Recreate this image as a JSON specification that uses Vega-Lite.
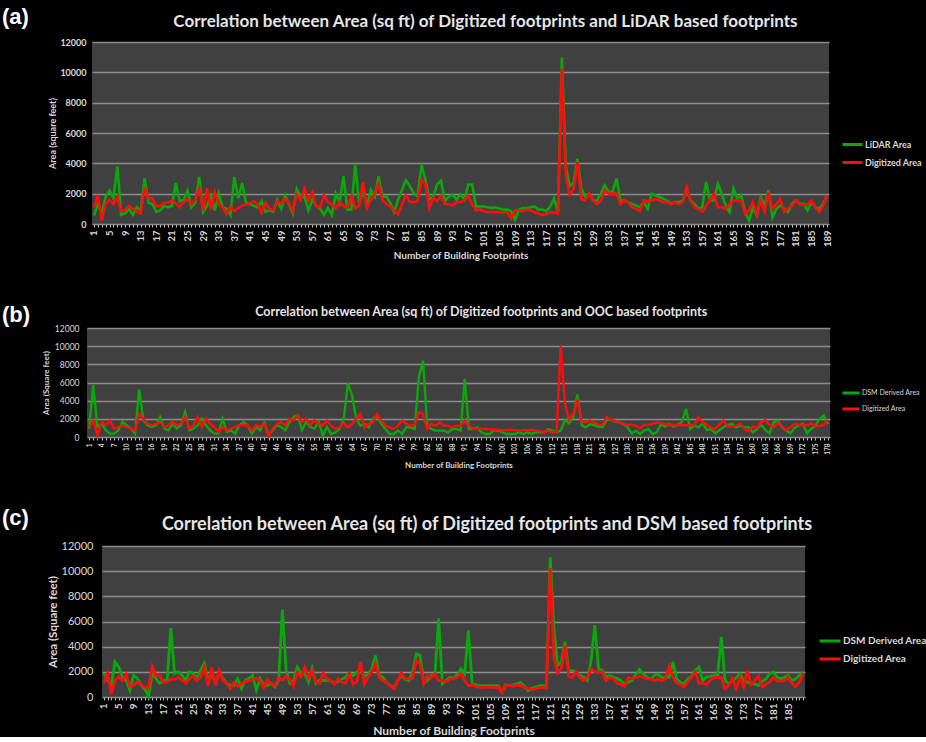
{
  "$schema": "https://vega.github.io/schema/vega-lite/v6.json",
  "background": "#000000",
  "padding": {"left": 2, "top": 5, "right": 0, "bottom": 0},
  "config": {"font": "Lato", "view": {"stroke": null}},
  "resolve": {"scale": {"color": "independent"}, "legend": {"color": "independent"}},
  "datasets": {
    "ac": [
      {"n":1,"lidar":550,"dsm":1870,"dig":1100},{"n":2,"lidar":1300,"dsm":1330,"dig":1900},{"n":3,"lidar":700,"dsm":930,"dig":250},{"n":4,"lidar":1800,"dsm":2800,"dig":1300},{"n":5,"lidar":2200,"dsm":2400,"dig":1600},
      {"n":6,"lidar":1700,"dsm":1600,"dig":1300},{"n":7,"lidar":3800,"dsm":1330,"dig":1800},{"n":8,"lidar":600,"dsm":530,"dig":850},{"n":9,"lidar":700,"dsm":1730,"dig":900},{"n":10,"lidar":1000,"dsm":1470,"dig":1200},
      {"n":11,"lidar":600,"dsm":930,"dig":1000},{"n":12,"lidar":1100,"dsm":670,"dig":800},{"n":13,"lidar":900,"dsm":50,"dig":700},{"n":14,"lidar":3000,"dsm":1870,"dig":2400},{"n":15,"lidar":1400,"dsm":1470,"dig":1700},
      {"n":16,"lidar":1300,"dsm":1070,"dig":1700},{"n":17,"lidar":800,"dsm":1330,"dig":1150},{"n":18,"lidar":900,"dsm":1330,"dig":1200},{"n":19,"lidar":1200,"dsm":5470,"dig":1400},{"n":20,"lidar":1100,"dsm":1870,"dig":1400},
      {"n":21,"lidar":1200,"dsm":2000,"dig":1550},{"n":22,"lidar":2700,"dsm":1730,"dig":1350},{"n":23,"lidar":1500,"dsm":1330,"dig":1100},{"n":24,"lidar":1600,"dsm":2000,"dig":1450},{"n":25,"lidar":2200,"dsm":1870,"dig":1650},
      {"n":26,"lidar":1100,"dsm":1470,"dig":1300},{"n":27,"lidar":1400,"dsm":2140,"dig":1600},{"n":28,"lidar":3100,"dsm":2670,"dig":2350},{"n":29,"lidar":800,"dsm":1330,"dig":900},{"n":30,"lidar":1200,"dsm":1730,"dig":2350},
      {"n":31,"lidar":1900,"dsm":1200,"dig":950},{"n":32,"lidar":900,"dsm":1870,"dig":2100},{"n":33,"lidar":2000,"dsm":1470,"dig":1300},{"n":34,"lidar":1100,"dsm":1070,"dig":1100},{"n":35,"lidar":1000,"dsm":930,"dig":650},
      {"n":36,"lidar":600,"dsm":930,"dig":1150},{"n":37,"lidar":3100,"dsm":1470,"dig":850},{"n":38,"lidar":1700,"dsm":670,"dig":1050},{"n":39,"lidar":2700,"dsm":1330,"dig":1200},{"n":40,"lidar":1400,"dsm":1470,"dig":1300},
      {"n":41,"lidar":1300,"dsm":1730,"dig":1350},{"n":42,"lidar":1200,"dsm":530,"dig":1500},{"n":43,"lidar":1100,"dsm":1470,"dig":1300},{"n":44,"lidar":1500,"dsm":930,"dig":750},{"n":45,"lidar":800,"dsm":930,"dig":1400},
      {"n":46,"lidar":900,"dsm":1070,"dig":1000},{"n":47,"lidar":800,"dsm":800,"dig":900},{"n":48,"lidar":1600,"dsm":1330,"dig":1500},{"n":49,"lidar":1000,"dsm":6940,"dig":1350},{"n":50,"lidar":1900,"dsm":2140,"dig":1650},
      {"n":51,"lidar":1300,"dsm":1070,"dig":1400},{"n":52,"lidar":700,"dsm":1330,"dig":850},{"n":53,"lidar":2300,"dsm":2400,"dig":1950},{"n":54,"lidar":1800,"dsm":1870,"dig":1600},{"n":55,"lidar":1800,"dsm":1870,"dig":2350},
      {"n":56,"lidar":900,"dsm":1200,"dig":1550},{"n":57,"lidar":1600,"dsm":2270,"dig":2100},{"n":58,"lidar":1200,"dsm":1070,"dig":1150},{"n":59,"lidar":1000,"dsm":1330,"dig":1100},{"n":60,"lidar":600,"dsm":1330,"dig":1900},
      {"n":61,"lidar":1050,"dsm":1330,"dig":1450},{"n":62,"lidar":600,"dsm":1300,"dig":1300},{"n":63,"lidar":2000,"dsm":1120,"dig":1040},{"n":64,"lidar":1400,"dsm":1230,"dig":1440},{"n":65,"lidar":3150,"dsm":1440,"dig":1170},
      {"n":66,"lidar":950,"dsm":1570,"dig":1100},{"n":67,"lidar":950,"dsm":1920,"dig":1840},{"n":68,"lidar":3900,"dsm":1700,"dig":1040},{"n":69,"lidar":1400,"dsm":1970,"dig":1200},{"n":70,"lidar":2250,"dsm":2240,"dig":2780},
      {"n":71,"lidar":1150,"dsm":1640,"dig":1040},{"n":72,"lidar":2250,"dsm":1760,"dig":1570},{"n":73,"lidar":1800,"dsm":2240,"dig":1970},{"n":74,"lidar":3150,"dsm":3300,"dig":2640},{"n":75,"lidar":1800,"dsm":1700,"dig":1570},
      {"n":76,"lidar":1800,"dsm":1570,"dig":1300},{"n":77,"lidar":1400,"dsm":1170,"dig":1170},{"n":78,"lidar":800,"dsm":900,"dig":900},{"n":79,"lidar":1600,"dsm":700,"dig":640},{"n":80,"lidar":2250,"dsm":1300,"dig":1300},
      {"n":81,"lidar":2900,"dsm":1700,"dig":1900},{"n":82,"lidar":2500,"dsm":1390,"dig":1440},{"n":83,"lidar":2050,"dsm":1300,"dig":1440},{"n":84,"lidar":1800,"dsm":1970,"dig":1500},{"n":85,"lidar":3900,"dsm":3440,"dig":2900},
      {"n":86,"lidar":2900,"dsm":3300,"dig":2640},{"n":87,"lidar":1600,"dsm":1120,"dig":1040},{"n":88,"lidar":1800,"dsm":1300,"dig":1700},{"n":89,"lidar":2600,"dsm":1700,"dig":1500},{"n":90,"lidar":2850,"dsm":1700,"dig":1840},
      {"n":91,"lidar":1500,"dsm":6250,"dig":1300},{"n":92,"lidar":1800,"dsm":1040,"dig":1300},{"n":93,"lidar":1950,"dsm":1300,"dig":1220},{"n":94,"lidar":1600,"dsm":1570,"dig":1440},{"n":95,"lidar":1950,"dsm":1500,"dig":1440},
      {"n":96,"lidar":1600,"dsm":1760,"dig":1570},{"n":97,"lidar":2600,"dsm":2240,"dig":1840},{"n":98,"lidar":2600,"dsm":1840,"dig":1300},{"n":99,"lidar":1150,"dsm":5300,"dig":900},{"n":100,"lidar":1150,"dsm":1040,"dig":950},
      {"n":101,"lidar":1150,"dsm":960,"dig":850},{"n":102,"lidar":1100,"dsm":900,"dig":770},{"n":103,"lidar":1050,"dsm":900,"dig":770},{"n":104,"lidar":1100,"dsm":900,"dig":800},{"n":105,"lidar":1000,"dsm":900,"dig":770},
      {"n":106,"lidar":950,"dsm":900,"dig":750},{"n":107,"lidar":950,"dsm":880,"dig":770},{"n":108,"lidar":850,"dsm":370,"dig":370},{"n":109,"lidar":270,"dsm":960,"dig":900},{"n":110,"lidar":950,"dsm":900,"dig":900},
      {"n":111,"lidar":1050,"dsm":960,"dig":850},{"n":112,"lidar":1050,"dsm":1040,"dig":950},{"n":113,"lidar":1100,"dsm":1170,"dig":900},{"n":114,"lidar":1150,"dsm":900,"dig":770},{"n":115,"lidar":950,"dsm":500,"dig":700},
      {"n":116,"lidar":950,"dsm":700,"dig":590},{"n":117,"lidar":850,"dsm":780,"dig":640},{"n":118,"lidar":1150,"dsm":900,"dig":770},{"n":119,"lidar":1700,"dsm":900,"dig":750},{"n":120,"lidar":800,"dsm":850,"dig":700},
      {"n":121,"lidar":10980,"dsm":11100,"dig":10250},{"n":122,"lidar":3800,"dsm":5500,"dig":3200},{"n":123,"lidar":2500,"dsm":2500,"dig":1900},{"n":124,"lidar":2700,"dsm":2800,"dig":2300},{"n":125,"lidar":4300,"dsm":4400,"dig":4100},
      {"n":126,"lidar":2330,"dsm":2100,"dig":1650},{"n":127,"lidar":1780,"dsm":2100,"dig":1550},{"n":128,"lidar":2000,"dsm":1980,"dig":2000},{"n":129,"lidar":1550,"dsm":1710,"dig":1550},{"n":130,"lidar":1550,"dsm":1580,"dig":1300},
      {"n":131,"lidar":2000,"dsm":1310,"dig":1550},{"n":132,"lidar":2550,"dsm":2910,"dig":2200},{"n":133,"lidar":2100,"dsm":5710,"dig":2000},{"n":134,"lidar":2100,"dsm":2240,"dig":2000},{"n":135,"lidar":3000,"dsm":2110,"dig":2000},
      {"n":136,"lidar":1550,"dsm":1580,"dig":1300},{"n":137,"lidar":1550,"dsm":1710,"dig":1550},{"n":138,"lidar":1440,"dsm":1580,"dig":1450},{"n":139,"lidar":1330,"dsm":1440,"dig":1100},{"n":140,"lidar":1220,"dsm":1310,"dig":1000},
      {"n":141,"lidar":1110,"dsm":1040,"dig":850},{"n":142,"lidar":1440,"dsm":1170,"dig":1550},{"n":143,"lidar":1000,"dsm":1310,"dig":1450},{"n":144,"lidar":2000,"dsm":1790,"dig":1550},{"n":145,"lidar":1890,"dsm":2190,"dig":1650},
      {"n":146,"lidar":1780,"dsm":1840,"dig":1550},{"n":147,"lidar":1670,"dsm":1580,"dig":1450},{"n":148,"lidar":1550,"dsm":1440,"dig":1450},{"n":149,"lidar":1330,"dsm":1710,"dig":1300},{"n":150,"lidar":1440,"dsm":1790,"dig":1450},
      {"n":151,"lidar":1440,"dsm":1580,"dig":1300},{"n":152,"lidar":1550,"dsm":1520,"dig":1450},{"n":153,"lidar":2220,"dsm":1580,"dig":2450},{"n":154,"lidar":1550,"dsm":2780,"dig":1550},{"n":155,"lidar":1330,"dsm":1440,"dig":1100},
      {"n":156,"lidar":1000,"dsm":1170,"dig":1000},{"n":157,"lidar":1110,"dsm":1040,"dig":800},{"n":158,"lidar":2780,"dsm":1440,"dig":1200},{"n":159,"lidar":1550,"dsm":1630,"dig":1550},{"n":160,"lidar":1550,"dsm":2110,"dig":2000},
      {"n":161,"lidar":2660,"dsm":2380,"dig":1100},{"n":162,"lidar":2000,"dsm":1310,"dig":1100},{"n":163,"lidar":1220,"dsm":1580,"dig":1000},{"n":164,"lidar":780,"dsm":1630,"dig":1300},{"n":165,"lidar":2330,"dsm":1710,"dig":1550},
      {"n":166,"lidar":1670,"dsm":1710,"dig":1550},{"n":167,"lidar":1890,"dsm":4780,"dig":1550},{"n":168,"lidar":780,"dsm":1310,"dig":650},{"n":169,"lidar":220,"dsm":1040,"dig":900},{"n":170,"lidar":1110,"dsm":1310,"dig":1450},
      {"n":171,"lidar":560,"dsm":1520,"dig":650},{"n":172,"lidar":1780,"dsm":1840,"dig":1550},{"n":173,"lidar":1220,"dsm":1310,"dig":800},{"n":174,"lidar":2220,"dsm":1170,"dig":2100},{"n":175,"lidar":440,"dsm":1090,"dig":1000},
      {"n":176,"lidar":1000,"dsm":1040,"dig":1300},{"n":177,"lidar":1220,"dsm":910,"dig":1650},{"n":178,"lidar":1000,"dsm":1250,"dig":800},{"n":179,"lidar":780,"dsm":1440,"dig":1000},{"n":180,"lidar":1330,"dsm":1840,"dig":1200},
      {"n":181,"lidar":1550,"dsm":1980,"dig":1550},{"n":182,"lidar":1330,"dsm":1580,"dig":1300},{"n":183,"lidar":1330,"dsm":1440,"dig":1250},{"n":184,"lidar":890,"dsm":1580,"dig":1300},{"n":185,"lidar":1440,"dsm":1710,"dig":1550},
      {"n":186,"lidar":1110,"dsm":1310,"dig":1100},{"n":187,"lidar":1000,"dsm":1440,"dig":800},{"n":188,"lidar":1330,"dsm":1710,"dig":1200},{"n":189,"lidar":1890,"dsm":1980,"dig":1900}
    ],
    "b": [
      {"n":1,"dsm":920,"dig":1100},{"n":2,"dsm":5700,"dig":1850},{"n":3,"dsm":1100,"dig":200},{"n":4,"dsm":1470,"dig":1650},{"n":5,"dsm":740,"dig":1300},
      {"n":6,"dsm":370,"dig":1800},{"n":7,"dsm":370,"dig":900},{"n":8,"dsm":740,"dig":1100},{"n":9,"dsm":1660,"dig":1290},{"n":10,"dsm":1290,"dig":1100},
      {"n":11,"dsm":920,"dig":920},{"n":12,"dsm":370,"dig":700},{"n":13,"dsm":5200,"dig":2550},{"n":14,"dsm":1840,"dig":2000},{"n":15,"dsm":1290,"dig":1450},
      {"n":16,"dsm":1100,"dig":1290},{"n":17,"dsm":1290,"dig":1450},{"n":18,"dsm":2200,"dig":1650},{"n":19,"dsm":920,"dig":1100},{"n":20,"dsm":740,"dig":1290},
      {"n":21,"dsm":1470,"dig":1650},{"n":22,"dsm":920,"dig":1290},{"n":23,"dsm":1290,"dig":1470},{"n":24,"dsm":2760,"dig":2200},{"n":25,"dsm":740,"dig":920},
      {"n":26,"dsm":920,"dig":1290},{"n":27,"dsm":1290,"dig":2200},{"n":28,"dsm":2020,"dig":1100},{"n":29,"dsm":1290,"dig":2000},{"n":30,"dsm":740,"dig":1470},
      {"n":31,"dsm":370,"dig":1100},{"n":32,"dsm":370,"dig":550},{"n":33,"dsm":2020,"dig":1100},{"n":34,"dsm":550,"dig":740},{"n":35,"dsm":740,"dig":920},
      {"n":36,"dsm":370,"dig":1100},{"n":37,"dsm":1290,"dig":1290},{"n":38,"dsm":1660,"dig":1290},{"n":39,"dsm":1290,"dig":1290},{"n":40,"dsm":370,"dig":740},
      {"n":41,"dsm":1100,"dig":1290},{"n":42,"dsm":740,"dig":1100},{"n":43,"dsm":1660,"dig":1470},{"n":44,"dsm":180,"dig":50},{"n":45,"dsm":740,"dig":920},
      {"n":46,"dsm":1290,"dig":1470},{"n":47,"dsm":1100,"dig":1650},{"n":48,"dsm":740,"dig":1290},{"n":49,"dsm":1660,"dig":2000},{"n":50,"dsm":2200,"dig":1840},
      {"n":51,"dsm":2390,"dig":2400},{"n":52,"dsm":740,"dig":1650},{"n":53,"dsm":1660,"dig":2000},{"n":54,"dsm":1100,"dig":1290},{"n":55,"dsm":920,"dig":1840},
      {"n":56,"dsm":1660,"dig":1470},{"n":57,"dsm":180,"dig":1290},{"n":58,"dsm":1100,"dig":1800},{"n":59,"dsm":330,"dig":1250},{"n":60,"dsm":500,"dig":900},
      {"n":61,"dsm":880,"dig":1050},{"n":62,"dsm":1900,"dig":1600},{"n":63,"dsm":5900,"dig":1050},{"n":64,"dsm":4600,"dig":1440},{"n":65,"dsm":2000,"dig":2000},
      {"n":66,"dsm":1250,"dig":2550},{"n":67,"dsm":1440,"dig":1050},{"n":68,"dsm":1070,"dig":1440},{"n":69,"dsm":2000,"dig":1600},{"n":70,"dsm":2350,"dig":2550},
      {"n":71,"dsm":1440,"dig":1800},{"n":72,"dsm":880,"dig":1250},{"n":73,"dsm":330,"dig":1050},{"n":74,"dsm":330,"dig":880},{"n":75,"dsm":700,"dig":1250},
      {"n":76,"dsm":330,"dig":1800},{"n":77,"dsm":1070,"dig":1440},{"n":78,"dsm":1070,"dig":1250},{"n":79,"dsm":880,"dig":1330},{"n":80,"dsm":6600,"dig":2700},
      {"n":81,"dsm":8400,"dig":2550},{"n":82,"dsm":1250,"dig":880},{"n":83,"dsm":880,"dig":1440},{"n":84,"dsm":700,"dig":1250},{"n":85,"dsm":700,"dig":1600},
      {"n":86,"dsm":700,"dig":1250},{"n":87,"dsm":520,"dig":1250},{"n":88,"dsm":880,"dig":1070},{"n":89,"dsm":880,"dig":1250},{"n":90,"dsm":700,"dig":1250},
      {"n":91,"dsm":6400,"dig":1800},{"n":92,"dsm":880,"dig":1250},{"n":93,"dsm":880,"dig":880},{"n":94,"dsm":1070,"dig":950},{"n":95,"dsm":520,"dig":880},
      {"n":96,"dsm":330,"dig":880},{"n":97,"dsm":330,"dig":850},{"n":98,"dsm":700,"dig":800},{"n":99,"dsm":700,"dig":800},{"n":100,"dsm":520,"dig":750},
      {"n":101,"dsm":330,"dig":750},{"n":102,"dsm":330,"dig":800},{"n":103,"dsm":330,"dig":750},{"n":104,"dsm":520,"dig":700},{"n":105,"dsm":330,"dig":750},
      {"n":106,"dsm":520,"dig":750},{"n":107,"dsm":330,"dig":800},{"n":108,"dsm":520,"dig":700},{"n":109,"dsm":520,"dig":650},{"n":110,"dsm":520,"dig":500},
      {"n":111,"dsm":880,"dig":700},{"n":112,"dsm":700,"dig":520},{"n":113,"dsm":520,"dig":520},{"n":114,"dsm":700,"dig":10100},{"n":115,"dsm":1900,"dig":3700},
      {"n":116,"dsm":1500,"dig":1900},{"n":117,"dsm":2200,"dig":2600},{"n":118,"dsm":4700,"dig":4000},{"n":119,"dsm":1300,"dig":1620},{"n":120,"dsm":1070,"dig":1620},
      {"n":121,"dsm":1400,"dig":1800},{"n":122,"dsm":1320,"dig":1620},{"n":123,"dsm":1140,"dig":1360},{"n":124,"dsm":1070,"dig":1320},{"n":125,"dsm":1880,"dig":2170},
      {"n":126,"dsm":1880,"dig":1880},{"n":127,"dsm":1700,"dig":1800},{"n":128,"dsm":1620,"dig":1620},{"n":129,"dsm":1440,"dig":1440},{"n":130,"dsm":1070,"dig":1320},
      {"n":131,"dsm":400,"dig":1360},{"n":132,"dsm":700,"dig":1250},{"n":133,"dsm":330,"dig":990},{"n":134,"dsm":700,"dig":1320},{"n":135,"dsm":880,"dig":1360},
      {"n":136,"dsm":330,"dig":1440},{"n":137,"dsm":520,"dig":1580},{"n":138,"dsm":1400,"dig":1550},{"n":139,"dsm":1140,"dig":1400},{"n":140,"dsm":1440,"dig":1320},
      {"n":141,"dsm":1140,"dig":1320},{"n":142,"dsm":1360,"dig":1320},{"n":143,"dsm":1620,"dig":1320},{"n":144,"dsm":3100,"dig":1290},{"n":145,"dsm":880,"dig":1290},
      {"n":146,"dsm":1250,"dig":1320},{"n":147,"dsm":1070,"dig":2170},{"n":148,"dsm":1510,"dig":1620},{"n":149,"dsm":770,"dig":1320},{"n":150,"dsm":880,"dig":990},
      {"n":151,"dsm":400,"dig":880},{"n":152,"dsm":770,"dig":1360},{"n":153,"dsm":1070,"dig":1800},{"n":154,"dsm":1320,"dig":1140},{"n":155,"dsm":1440,"dig":1140},
      {"n":156,"dsm":1070,"dig":1250},{"n":157,"dsm":1250,"dig":1440},{"n":158,"dsm":1070,"dig":880},{"n":159,"dsm":1070,"dig":630},{"n":160,"dsm":500,"dig":1180},
      {"n":161,"dsm":880,"dig":990},{"n":162,"dsm":1360,"dig":1620},{"n":163,"dsm":770,"dig":1880},{"n":164,"dsm":400,"dig":1360},{"n":165,"dsm":1620,"dig":1070},
      {"n":166,"dsm":1800,"dig":1580},{"n":167,"dsm":1070,"dig":1140},{"n":168,"dsm":700,"dig":770},{"n":169,"dsm":400,"dig":1070},{"n":170,"dsm":990,"dig":1440},
      {"n":171,"dsm":1250,"dig":1360},{"n":172,"dsm":1440,"dig":1250},{"n":173,"dsm":400,"dig":1320},{"n":174,"dsm":880,"dig":1500},{"n":175,"dsm":1250,"dig":1210},
      {"n":176,"dsm":1990,"dig":1210},{"n":177,"dsm":2350,"dig":1360},{"n":178,"dsm":1440,"dig":1880}
    ]
  },
  "spacing": 36,
  "vconcat": [
    {
      "spacing": 42,
      "resolve": {"scale": {"color": "independent"}, "legend": {"color": "independent"}},
      "vconcat": [
        {
          "spacing": 12,
          "resolve": {"scale": {"color": "independent"}, "legend": {"color": "independent"}},
          "hconcat": [
            {
              "width": 34, "height": 1,
              "title": {"text": "(a)", "fontSize": 22, "fontWeight": "bold", "color": "#ffffff", "font": "Liberation Sans", "anchor": "start", "frame": "group", "offset": 8},
              "data": {"values": [{"label": "(a)"}]},
              "mark": {"type": "text", "opacity": 0},
              "encoding": {"text": {"field": "label"}}
            },
            {
              "width": 737, "height": 182,
              "data": {"name": "ac"},
              "view": {"fill": "#404040", "stroke": null},
              "title": {"text": "Correlation between Area (sq ft) of Digitized footprints and LiDAR based footprints", "fontSize": 17, "fontWeight": "bold", "color": "#e6e6e6", "frame": "bounds", "anchor": "middle", "offset": 7},
              "encoding": {
                "x": {"field": "n", "type": "ordinal", "scale": {"type": "point", "padding": 0.5},
                  "axis": {"title": "Number of Building Footprints", "labelExpr": "(datum.value - 1) % 4 === 0 ? datum.label : ''", "labelAngle": -90, "labelOverlap": false, "labelFontSize": 9.5, "labelFontWeight": "bold", "labelColor": "#d9d9d9", "labelPadding": 3, "tickColor": "#bfbfbf", "tickSize": 3, "domainColor": "#8c8c8c", "titleFontSize": 10, "titleColor": "#d9d9d9", "titlePadding": 4}}
              },
              "layer": [
                {
                  "mark": {"type": "line", "strokeWidth": 2.6},
                  "encoding": {
                    "y": {"field": "lidar", "type": "quantitative", "title": "Area (square feet)", "scale": {"domain": [0, 12000], "nice": false},
                      "axis": {"values": [0, 2000, 4000, 6000, 8000, 10000, 12000], "labelOverlap": false, "format": "d", "gridColor": "#8c8c8c", "gridWidth": 1.5, "domain": false, "ticks": false, "labelFontSize": 9, "labelFontWeight": "bold", "labelColor": "#d9d9d9", "labelPadding": 6, "titleFontSize": 9, "titleColor": "#d9d9d9", "titlePadding": 2}},
                    "color": {"datum": "LiDAR Area", "scale": {"domain": ["LiDAR Area", "Digitized Area"], "range": ["#0aa80a", "#ff0d0d"]},
                      "legend": {"title": null, "orient": "none", "legendX": 749, "legendY": 91, "padding": 0, "symbolType": "stroke", "symbolStrokeWidth": 3, "symbolSize": 400, "labelColor": "#d9d9d9", "labelFontSize": 9, "labelFontWeight": "bold", "rowPadding": -2, "labelOffset": 1}}
                  }
                },
                {
                  "mark": {"type": "line", "strokeWidth": 2.6},
                  "encoding": {
                    "y": {"field": "dig", "type": "quantitative", "title": "Area (square feet)", "scale": {"domain": [0, 12000], "nice": false},
                      "axis": {"values": [0, 2000, 4000, 6000, 8000, 10000, 12000], "labelOverlap": false, "format": "d", "gridColor": "#8c8c8c", "gridWidth": 1.5, "domain": false, "ticks": false, "labelFontSize": 9, "labelFontWeight": "bold", "labelColor": "#d9d9d9", "labelPadding": 6, "titleFontSize": 9, "titleColor": "#d9d9d9", "titlePadding": 2}},
                    "color": {"datum": "Digitized Area"}
                  }
                }
              ]
            }
          ]
        },
        {
          "spacing": 6,
          "resolve": {"scale": {"color": "independent"}, "legend": {"color": "independent"}},
          "hconcat": [
            {
              "width": 34, "height": 1,
              "title": {"text": "(b)", "fontSize": 22, "fontWeight": "bold", "color": "#ffffff", "font": "Liberation Sans", "anchor": "start", "frame": "group", "offset": -4},
              "data": {"values": [{"label": "(b)"}]},
              "mark": {"type": "text", "opacity": 0},
              "encoding": {"text": {"field": "label"}}
            },
            {
              "width": 743, "height": 109,
              "data": {"name": "b"},
              "view": {"fill": "#404040", "stroke": null},
              "title": {"text": "Correlation between Area (sq ft) of Digitized footprints and OOC based footprints", "fontSize": 12.5, "fontWeight": "bold", "color": "#e6e6e6", "frame": "bounds", "anchor": "middle", "offset": 6},
              "encoding": {
                "x": {"field": "n", "type": "ordinal", "scale": {"type": "point", "padding": 0.5},
                  "axis": {"title": "Number of Building Footprints", "labelExpr": "(datum.value - 1) % 3 === 0 ? datum.label : ''", "labelAngle": -90, "labelOverlap": false, "labelFontSize": 6.5, "labelFontWeight": "bold", "labelColor": "#d9d9d9", "labelPadding": 3, "tickColor": "#bfbfbf", "tickSize": 3, "domainColor": "#8c8c8c", "titleFontSize": 8, "titleColor": "#d9d9d9", "titlePadding": 7}}
              },
              "layer": [
                {
                  "mark": {"type": "line", "strokeWidth": 2.4},
                  "encoding": {
                    "y": {"field": "dsm", "type": "quantitative", "title": "Area (Square feet)", "scale": {"domain": [0, 12000], "nice": false},
                      "axis": {"values": [0, 2000, 4000, 6000, 8000, 10000, 12000], "labelOverlap": false, "format": "d", "gridColor": "#8c8c8c", "gridWidth": 1.5, "domain": false, "ticks": false, "labelFontSize": 8.5, "labelColor": "#d9d9d9", "labelPadding": 8, "titleFontSize": 8, "titleColor": "#d9d9d9", "titlePadding": 4}},
                    "color": {"datum": "DSM Derived Area", "scale": {"domain": ["DSM Derived Area", "Digitized Area"], "range": ["#0aa80a", "#ff0d0d"]},
                      "legend": {"title": null, "orient": "none", "legendX": 754, "legendY": 55, "padding": 0, "symbolType": "stroke", "symbolStrokeWidth": 3, "symbolSize": 289, "labelColor": "#d9d9d9", "labelFontSize": 7, "rowPadding": -2, "labelOffset": 1}}
                  }
                },
                {
                  "mark": {"type": "line", "strokeWidth": 2.4},
                  "encoding": {
                    "y": {"field": "dig", "type": "quantitative", "title": "Area (Square feet)", "scale": {"domain": [0, 12000], "nice": false},
                      "axis": {"values": [0, 2000, 4000, 6000, 8000, 10000, 12000], "labelOverlap": false, "format": "d", "gridColor": "#8c8c8c", "gridWidth": 1.5, "domain": false, "ticks": false, "labelFontSize": 8.5, "labelColor": "#d9d9d9", "labelPadding": 8, "titleFontSize": 8, "titleColor": "#d9d9d9", "titlePadding": 4}},
                    "color": {"datum": "Digitized Area"}
                  }
                }
              ]
            }
          ]
        }
      ]
    },
    {
      "spacing": 11,
      "resolve": {"scale": {"color": "independent"}, "legend": {"color": "independent"}},
      "hconcat": [
        {
          "width": 34, "height": 1,
          "title": {"text": "(c)", "fontSize": 22, "fontWeight": "bold", "color": "#ffffff", "font": "Liberation Sans", "anchor": "start", "frame": "group", "offset": 11},
          "data": {"values": [{"label": "(c)"}]},
          "mark": {"type": "text", "opacity": 0},
          "encoding": {"text": {"field": "label"}}
        },
        {
          "width": 703, "height": 151,
          "data": {"name": "ac"},
          "view": {"fill": "#404040", "stroke": null},
          "title": {"text": "Correlation between Area (sq ft) of Digitized footprints and DSM based footprints", "fontSize": 18, "fontWeight": "bold", "color": "#e6e6e6", "frame": "bounds", "anchor": "middle", "offset": 6},
          "encoding": {
            "x": {"field": "n", "type": "ordinal", "scale": {"type": "point", "padding": 0.5},
              "axis": {"title": "Number of Building Footprints", "labelExpr": "(datum.value - 1) % 4 === 0 && datum.value < 189 ? datum.label : ''", "labelAngle": -90, "labelOverlap": false, "labelFontSize": 10, "labelFontWeight": "bold", "labelColor": "#d9d9d9", "labelPadding": 3, "tickColor": "#bfbfbf", "tickSize": 3, "domainColor": "#8c8c8c", "titleFontSize": 12, "titleColor": "#d9d9d9", "titlePadding": 5}}
          },
          "layer": [
            {
              "mark": {"type": "line", "strokeWidth": 2.8},
              "encoding": {
                "y": {"field": "dsm", "type": "quantitative", "title": "Area (Square feet)", "scale": {"domain": [0, 12000], "nice": false},
                  "axis": {"values": [0, 2000, 4000, 6000, 8000, 10000, 12000], "labelOverlap": false, "format": "d", "gridColor": "#8c8c8c", "gridWidth": 1.5, "domain": false, "ticks": false, "labelFontSize": 11, "labelColor": "#d9d9d9", "labelPadding": 9, "titleFontSize": 11.5, "titleColor": "#d9d9d9", "titlePadding": 3}},
                "color": {"datum": "DSM Derived Area", "scale": {"domain": ["DSM Derived Area", "Digitized Area"], "range": ["#0aa80a", "#ff0d0d"]},
                  "legend": {"title": null, "orient": "none", "legendX": 716, "legendY": 83, "padding": 0, "symbolType": "stroke", "symbolStrokeWidth": 3, "symbolSize": 441, "labelColor": "#d9d9d9", "labelFontSize": 10, "labelFontWeight": "bold", "rowPadding": -1, "labelOffset": 1}}
              }
            },
            {
              "mark": {"type": "line", "strokeWidth": 2.8},
              "encoding": {
                "y": {"field": "dig", "type": "quantitative", "title": "Area (Square feet)", "scale": {"domain": [0, 12000], "nice": false},
                  "axis": {"values": [0, 2000, 4000, 6000, 8000, 10000, 12000], "labelOverlap": false, "format": "d", "gridColor": "#8c8c8c", "gridWidth": 1.5, "domain": false, "ticks": false, "labelFontSize": 11, "labelColor": "#d9d9d9", "labelPadding": 9, "titleFontSize": 11.5, "titleColor": "#d9d9d9", "titlePadding": 3}},
                "color": {"datum": "Digitized Area"}
              }
            }
          ]
        }
      ]
    }
  ]
}
